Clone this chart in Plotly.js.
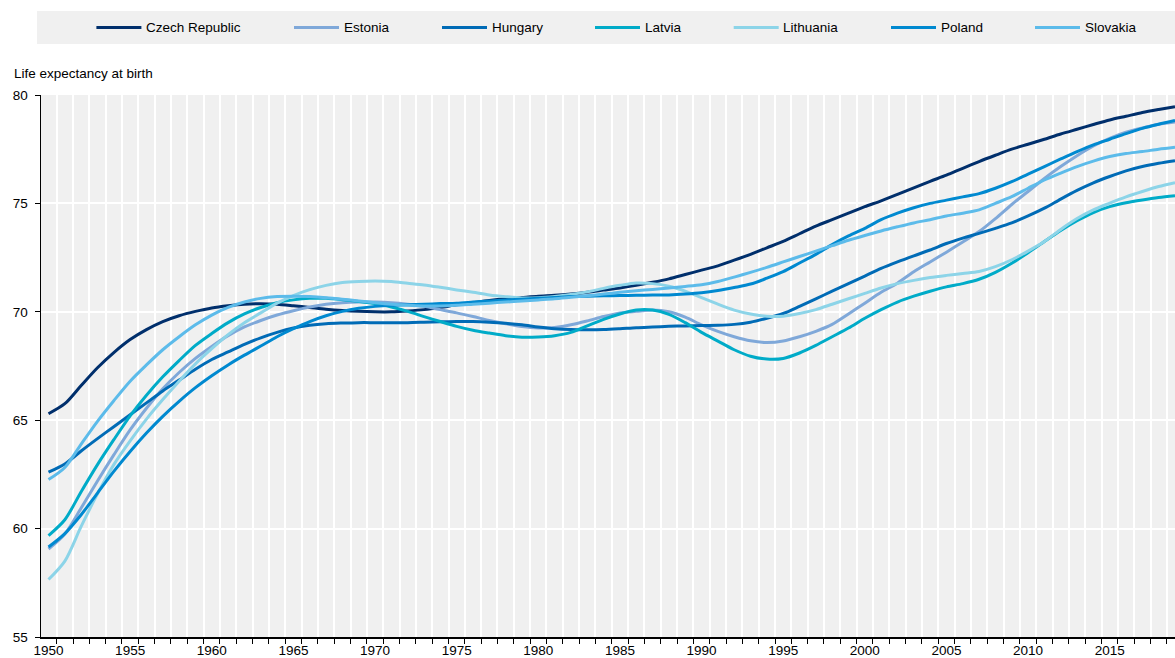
<!DOCTYPE html>
<html><head><meta charset="utf-8">
<script src="https://cdn.plot.ly/plotly-3.0.1.min.js"></script>
<style>html,body{margin:0;padding:0;background:#fff}#chart{width:1175px;height:658px}</style>
</head><body><div id="chart"></div>
<script>
const years = [1950,1951,1952,1953,1954,1955,1956,1957,1958,1959,1960,1961,1962,1963,1964,1965,1966,1967,1968,1969,
1970,1971,1972,1973,1974,1975,1976,1977,1978,1979,1980,1981,1982,1983,1984,1985,1986,1987,1988,1989,
1990,1991,1992,1993,1994,1995,1996,1997,1998,1999,2000,2001,2002,2003,2004,2005,2006,2007,2008,2009,
2010,2011,2012,2013,2014,2015,2016,2017,2018,2019];

const countries = ["Czech Republic","Estonia","Hungary","Latvia","Lithuania","Poland","Slovakia"];
const colors = ["#002F6C","#7FA8D9","#006BB6","#00ABC8","#8CD4E8","#0089D0","#5CBBEA"];

const czech = [65.3,65.76,66.6,67.42,68.12,68.72,69.18,69.55,69.82,70.02,70.18,70.28,70.35,70.37,70.35,70.28,70.2,70.12,70.06,70.02,
70.0,70.0,70.04,70.1,70.2,70.32,70.42,70.52,70.6,70.66,70.72,70.76,70.82,70.9,71.0,71.1,71.22,71.36,71.52,71.72,
71.92,72.12,72.38,72.65,72.95,73.25,73.6,73.95,74.25,74.55,74.85,75.12,75.42,75.72,76.02,76.3,76.62,76.93,77.22,77.5,
77.73,77.96,78.2,78.42,78.64,78.85,79.02,79.19,79.33,79.46];
const estonia = [59.06,59.75,60.95,62.2,63.4,64.55,65.55,66.45,67.2,67.85,68.4,68.9,69.3,69.6,69.85,70.05,70.22,70.35,70.42,70.45,
70.45,70.42,70.35,70.25,70.1,69.95,69.78,69.6,69.45,69.32,69.25,69.28,69.4,69.58,69.78,69.95,70.02,70.08,70.0,69.75,
69.4,69.1,68.85,68.66,68.58,68.65,68.85,69.1,69.42,69.9,70.4,70.9,71.32,71.85,72.3,72.75,73.22,73.7,74.3,74.95,
75.55,76.15,76.7,77.2,77.65,78.0,78.28,78.48,78.65,78.75];
const hungary = [62.6,62.98,63.58,64.15,64.7,65.25,65.8,66.35,66.85,67.35,67.8,68.15,68.5,68.8,69.05,69.25,69.38,69.45,69.48,69.5,
69.5,69.5,69.5,69.52,69.54,69.55,69.55,69.52,69.47,69.4,69.3,69.22,69.18,69.17,69.18,69.22,69.27,69.3,69.33,69.35,
69.37,69.38,69.42,69.52,69.7,69.92,70.25,70.6,70.95,71.3,71.65,72.0,72.3,72.58,72.85,73.15,73.4,73.62,73.85,74.1,
74.42,74.78,75.2,75.6,75.95,76.24,76.5,76.7,76.85,76.97];
const latvia = [59.68,60.41,61.7,62.95,64.1,65.2,66.15,67.0,67.75,68.45,69.0,69.5,69.9,70.2,70.42,70.55,70.62,70.62,70.56,70.48,
70.38,70.22,70.02,69.78,69.55,69.33,69.15,69.02,68.9,68.83,68.84,68.9,69.05,69.35,69.65,69.9,70.08,70.08,69.88,69.5,
69.05,68.65,68.25,67.95,67.82,67.85,68.1,68.45,68.85,69.25,69.7,70.1,70.45,70.72,70.95,71.15,71.3,71.5,71.82,72.24,
72.72,73.24,73.75,74.2,74.58,74.85,75.03,75.16,75.27,75.35];
const lithuania = [57.65,58.5,60.1,61.6,62.95,64.05,65.05,65.95,66.8,67.6,68.3,68.95,69.5,69.95,70.4,70.75,71.02,71.22,71.35,71.4,
71.42,71.4,71.32,71.24,71.13,71.01,70.9,70.78,70.7,70.64,70.65,70.71,70.8,70.92,71.08,71.22,71.33,71.3,71.18,70.95,
70.65,70.35,70.08,69.9,69.8,69.8,69.92,70.1,70.35,70.6,70.85,71.1,71.3,71.45,71.58,71.68,71.77,71.86,72.08,72.4,
72.8,73.24,73.8,74.3,74.7,75.01,75.3,75.55,75.78,75.96];
const poland = [59.15,59.77,60.64,61.64,62.64,63.56,64.41,65.18,65.87,66.5,67.05,67.55,68.0,68.42,68.85,69.22,69.55,69.82,70.02,70.16,
70.25,70.3,70.32,70.35,70.38,70.4,70.45,70.5,70.55,70.58,70.62,70.66,70.7,70.72,70.74,70.75,70.76,70.77,70.78,70.82,
70.88,70.98,71.12,71.28,71.55,71.85,72.25,72.65,73.1,73.5,73.85,74.25,74.55,74.8,75.0,75.15,75.3,75.45,75.7,76.0,
76.35,76.7,77.05,77.39,77.7,77.96,78.22,78.46,78.65,78.82];
const slovakia = [62.26,62.82,63.9,64.95,65.9,66.8,67.55,68.25,68.85,69.4,69.85,70.2,70.45,70.62,70.7,70.72,70.7,70.65,70.58,70.5,
70.42,70.35,70.3,70.27,70.27,70.3,70.35,70.4,70.45,70.5,70.55,70.6,70.67,70.74,70.82,70.9,70.97,71.03,71.1,71.17,
71.25,71.4,71.6,71.82,72.05,72.3,72.55,72.8,73.05,73.3,73.52,73.73,73.92,74.1,74.25,74.42,74.55,74.7,75.0,75.31,
75.7,76.08,76.4,76.7,76.95,77.16,77.3,77.39,77.5,77.59];

const xTickVals = [1950,1955,1960,1965,1970,1975,1980,1985,1990,1995,2000,2005,2010,2015];
const yTitle = "Life expectancy at birth";

const series = [czech, estonia, hungary, latvia, lithuania, poland, slovakia];

const W = 1175, H = 658, ML = 41, MR = 0, MT = 95, MB = 20.5;
const plotW = W - ML - MR, plotH = H - MT - MB;
const px2x = p => (p - ML) / plotW;
const px2y = p => (H - MB - p) / plotH;
const FONT = '"Liberation Sans", Arial, sans-serif';
const FS = 13.5;

const traces = countries.map((c, i) => ({
  x: years, y: series[i], name: c, type: 'scatter', mode: 'lines',
  line: {color: colors[i], width: 3, shape: 'spline', smoothing: 0.8},
  showlegend: false, hoverinfo: 'skip'
}));
traces.push({x: [years[0]], y: [czech[0]], xaxis: 'x2', mode: 'lines', showlegend: false, hoverinfo: 'skip', line: {width: 0}, opacity: 0});

// custom legend (positions are styling)
const legendStarts = [96.4, 294, 442, 595, 733.7, 891, 1035];
const legendY = 27.5;
const shapes = [{type: 'rect', xref: 'paper', yref: 'paper', x0: px2x(37), x1: px2x(1175), y0: px2y(44), y1: px2y(11),
  fillcolor: '#f0f0f0', line: {width: 0}, layer: 'below'}];
const annotations = [{text: yTitle, xref: 'paper', yref: 'paper', x: px2x(12), y: px2y(73), xanchor: 'left', yanchor: 'middle',
  showarrow: false, font: {family: FONT, size: FS, color: '#000'}}];
countries.forEach((c, i) => {
  const s = legendStarts[i];
  shapes.push({type: 'line', xref: 'paper', yref: 'paper', x0: px2x(s), x1: px2x(s + 45), y0: px2y(legendY), y1: px2y(legendY),
    line: {color: colors[i], width: 3}});
  annotations.push({text: c, xref: 'paper', yref: 'paper', x: px2x(s + 47.5), y: px2y(legendY), xanchor: 'left', yanchor: 'middle',
    showarrow: false, font: {family: FONT, size: FS, color: '#000'}});
});

const layout = {
  width: W, height: H,
  margin: {l: ML, r: MR, t: MT, b: MB, pad: 0},
  paper_bgcolor: '#ffffff', plot_bgcolor: '#f0f0f0',
  font: {family: FONT, size: FS, color: '#000'},
  showlegend: false,
  xaxis: {range: [1949.54, 2019], tickmode: 'linear', tick0: 1949.5, dtick: 1, ticks: 'outside', ticklen: 5,
    tickcolor: '#000', tickwidth: 1, showticklabels: false, showgrid: true, gridcolor: '#ffffff', gridwidth: 2,
    showline: true, linecolor: '#000', linewidth: 1.5, zeroline: false, fixedrange: true},
  xaxis2: {overlaying: 'x', side: 'bottom', range: [1949.54, 2019], tickmode: 'array', tickvals: xTickVals,
    ticktext: xTickVals.map(String), ticks: '', showgrid: false, showline: false, zeroline: false,
    ticklabelstandoff: 3,
    tickfont: {family: FONT, size: FS, color: '#000'}, fixedrange: true},
  yaxis: {range: [55, 80], tickmode: 'linear', tick0: 55, dtick: 5, ticks: 'outside', ticklen: 5, tickcolor: '#000',
    tickwidth: 1, showgrid: true, gridcolor: '#ffffff', gridwidth: 2, showline: true, linecolor: '#000', linewidth: 1.5,
    ticklabelstandoff: 4,
    zeroline: false, tickfont: {family: FONT, size: FS, color: '#000'}, fixedrange: true},
  shapes: shapes, annotations: annotations
};

Plotly.newPlot('chart', traces, layout, {displayModeBar: false, staticPlot: true});
</script></body></html>
